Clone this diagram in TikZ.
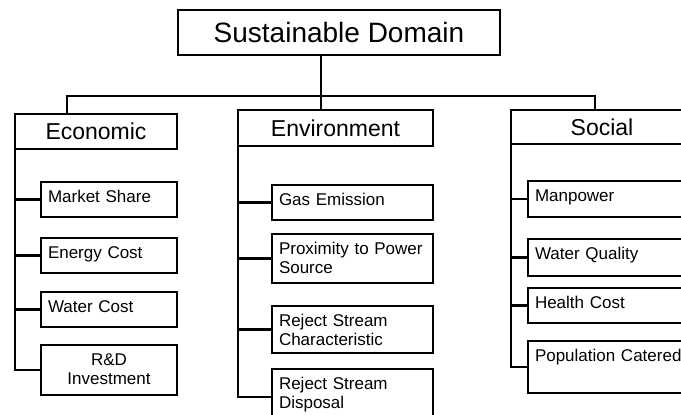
\documentclass[tikz,border=0pt]{standalone}
\usepackage{fontspec}
\setmainfont{Liberation Sans}

\begin{document}
\begin{tikzpicture}[x=1pt, y=-1pt,
    domainbox/.style={draw, line width=2.6pt, outer sep=0pt, inner sep=0pt,
        anchor=north west, font=\fontsize{28}{32}\selectfont},
    pillar/.style={draw, line width=2.6pt, outer sep=0pt, inner sep=0pt,
        anchor=north west, font=\fontsize{23}{26}\selectfont},
    leaf/.style={draw, line width=2.6pt, outer sep=0pt, anchor=north west,
        align=left, inner xsep=7pt, inner ysep=8pt, text height=12.5pt,
        font=\fontsize{17}{19}\selectfont},
    link/.style={line width=2.6pt}]

    % Frame (the right column and the last box run off the page)
    \useasboundingbox (0,0) rectangle (681,415);
    \clip (0,0) rectangle (681,415);

    % Top of the tree
    \node[domainbox, minimum width=322pt, minimum height=45pt] (dom) at (178,10) {Sustainable Domain};

    % The three pillars
    \node[pillar, minimum width=162pt, minimum height=35pt] (eco) at (15,114) {Economic};
    \node[pillar, minimum width=195pt, minimum height=36pt] (env) at (238,110) {Environment};
    \node[pillar, minimum width=182pt, minimum height=34pt] (soc) at (511,110) {Social};

    % Economic criteria
    \node[leaf, text width=122pt, text depth=6.5pt] (ms) at (41,182) {Market Share};
    \node[leaf, text width=122pt, text depth=6.5pt] (ec) at (41,238) {Energy Cost};
    \node[leaf, text width=122pt, text depth=6.5pt] (wc) at (41,292) {Water Cost};
    \node[leaf, text width=122pt, text depth=21.5pt, align=center] (rd) at (41,345) {R\&D\\Investment};

    % Environmental criteria
    \node[leaf, text width=147pt, text depth=6.5pt] (ge) at (272,185) {Gas Emission};
    \node[leaf, text width=147pt, text depth=20.5pt] (pp) at (272,234) {Proximity to Power\\Source};
    \node[leaf, text width=147pt, text depth=18.5pt] (rsc) at (272,306) {Reject Stream\\Characteristic};
    \node[leaf, text width=147pt, text depth=27.5pt] (rsd) at (272,369) {Reject Stream\\Disposal};

    % Social criteria
    \node[leaf, text width=151pt, text depth=7.5pt] (mp) at (528,181) {Manpower};
    \node[leaf, text width=151pt, text depth=8.5pt] (wq) at (528,239) {Water Quality};
    \node[leaf, text width=151pt, text depth=6.5pt] (hc) at (528,288) {Health Cost};
    \node[leaf, text width=151pt, text depth=23.5pt] (pc) at (528,341) {Population Catered};

    % Bus from the top box to the pillars
    \coordinate (hub) at (321,96);
    \coordinate (busL) at (67,96);
    \coordinate (busR) at (595,96);
    \draw[link] (dom.south -| hub) -- (env.north -| hub);
    \draw[link] (eco.north -| busL) -- (busL) -- (busR) -- (soc.north -| busR);

    % Spines and ticks down each column
    \draw[link] (eco.south west) |- (rd.west);
    \draw[link] (env.south west) |- (rsd.west);
    \draw[link] (soc.south west) |- (pc.west);
    \foreach \p/\c in {eco/ms, eco/ec, eco/wc, env/ge, env/pp, env/rsc, soc/mp, soc/wq, soc/hc}
        \draw[link] (\p.south west |- \c.west) -- (\c.west);
\end{tikzpicture}
\end{document}
